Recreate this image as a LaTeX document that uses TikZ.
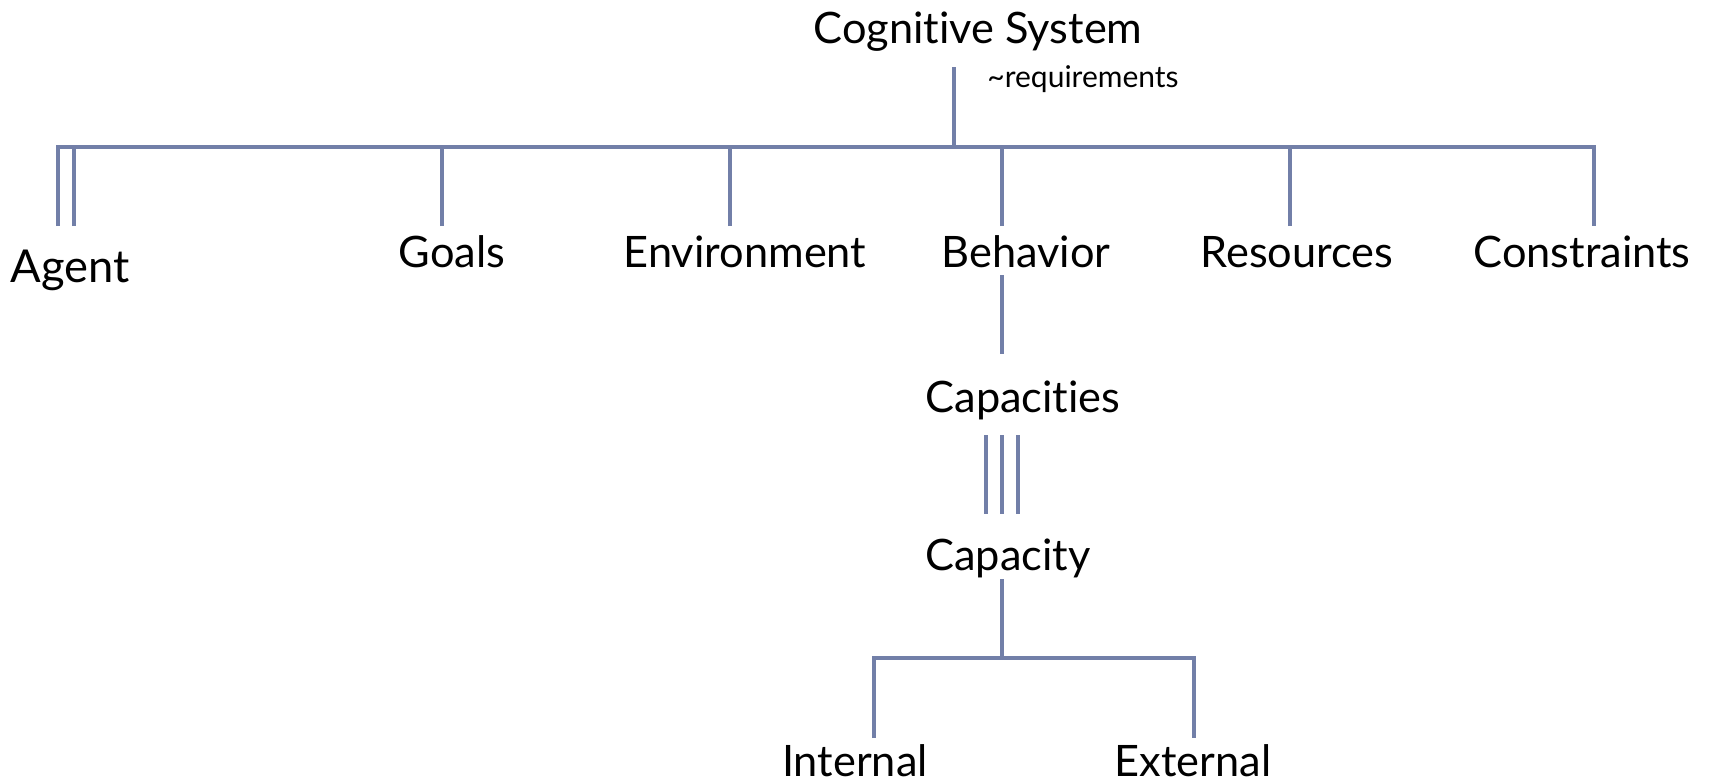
\documentclass[tikz,border=0pt]{standalone}
\usepackage{fontspec}
\setmainfont{Lato}[Ligatures=NoCommon]
\definecolor{linec}{RGB}{114,127,168}
\tikzset{
  lbl/.style={inner sep=0pt, anchor=base, text=black, font=\fontsize{32.5pt}{36pt}\selectfont},
  biglbl/.style={lbl, font=\fontsize{34pt}{40pt}\selectfont},
  smalllbl/.style={inner sep=0pt, anchor=base, text=black, font=\fontsize{22.5pt}{26pt}\selectfont},
  conn/.style={draw=linec, line width=2.6pt}
}
\begin{document}
\begin{tikzpicture}[x=0.75pt,y=-0.75pt]
\useasboundingbox (0,0) rectangle (1713,783);
% labels
\node[lbl] (cog) at (978,43) {Cognitive System};
\node[smalllbl] (req) at (1083,87) {\textasciitilde requirements};
\node[biglbl] (agent) at (70,282) {Agent};
\node[lbl] (goals) at (452,267) {Goals};
\node[lbl] (env) at (745,267) {Environment};
\node[lbl] (beh) at (1026,267) {Behavior};
\node[lbl] (res) at (1297,267) {Resources};
\node[lbl] (con) at (1582,267) {Constraints};
\node[lbl] (caps) at (1023,412) {Capacities};
\node[lbl] (cap) at (1008,570) {Capacity};
\node[lbl] (int) at (855,776) {Internal};
\node[lbl] (ext) at (1193,776) {External};
% connector points
\coordinate (cogB) at (954,67);
\coordinate (bar) at (954,147);
\coordinate (agA) at (58,226);
\coordinate (agB) at (74,226);
\coordinate (goT) at (442,226);
\coordinate (enT) at (730,226);
\coordinate (beT) at (1002,226);
\coordinate (reT) at (1290,226);
\coordinate (coT) at (1594,226);
\coordinate (beB) at (1002,275);
\coordinate (caT) at (1002,354);
\coordinate (t1a) at (986,435);
\coordinate (t1b) at (986,514);
\coordinate (t2a) at (1002,435);
\coordinate (t2b) at (1002,514);
\coordinate (t3a) at (1018,435);
\coordinate (t3b) at (1018,514);
\coordinate (caB) at (1002,579);
\coordinate (cbar) at (1002,658);
\coordinate (inT) at (874,738);
\coordinate (exT) at (1194,738);
% connectors
\draw[conn] (cogB) -- (bar);
\draw[conn] (agA) |- (coT |- bar) -- (coT);
\draw[conn] (agB) -- (agB |- bar);
\draw[conn] (goT) -- (goT |- bar);
\draw[conn] (enT) -- (enT |- bar);
\draw[conn] (beT) -- (beT |- bar);
\draw[conn] (reT) -- (reT |- bar);
\draw[conn] (beB) -- (caT);
\draw[conn] (t1a) -- (t1b);
\draw[conn] (t2a) -- (t2b);
\draw[conn] (t3a) -- (t3b);
\draw[conn] (caB) -- (cbar);
\draw[conn] (inT) |- (cbar) -| (exT);
\end{tikzpicture}
\end{document}
